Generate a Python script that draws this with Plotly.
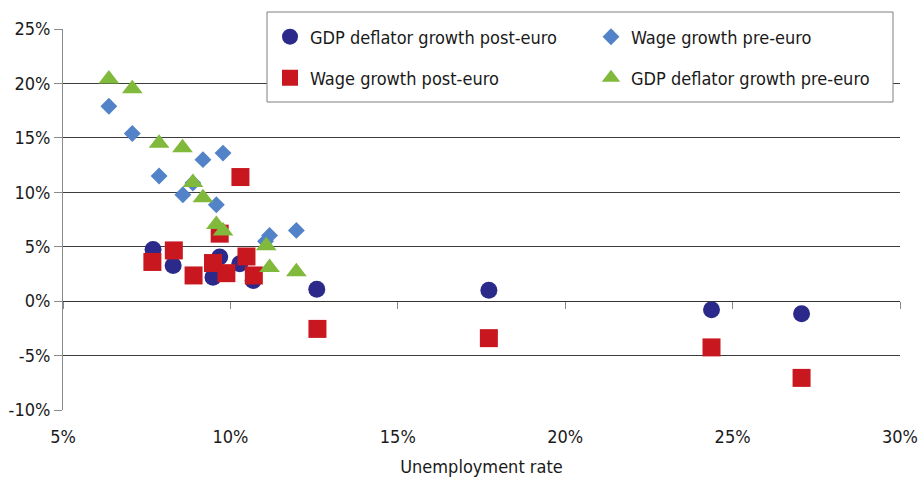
import plotly.graph_objects as go

# Unemployment rate (%) against growth rates (%), euro-area countries
post_unemp_gdp = [7.69, 8.29, 9.48, 9.68, 10.28, 10.68, 12.58, 17.72, 24.37, 27.06]
gdp_post = [4.75, 3.28, 2.2, 4.05, 3.44, 1.9, 1.1, 1.0, -0.8, -1.15]

post_unemp_wage = [7.67, 8.31, 8.90, 9.48, 9.68, 9.88, 10.30, 10.48, 10.70, 12.6, 17.72, 24.37, 27.06]
wage_post = [3.6, 4.66, 2.36, 3.5, 6.2, 2.57, 11.4, 4.1, 2.36, -2.55, -3.4, -4.25, -7.05]

pre_unemp_wage = [6.37, 7.07, 7.87, 8.58, 8.88, 9.18, 9.58, 9.78, 11.05, 11.17, 11.97]
wage_pre = [17.9, 15.4, 11.5, 9.78, 10.85, 13.0, 8.86, 13.6, 5.5, 6.04, 6.5]

pre_unemp_gdp = [6.37, 7.07, 7.87, 8.57, 8.88, 9.18, 9.58, 9.78, 11.07, 11.17, 11.97]
gdp_pre = [20.4, 19.5, 14.5, 14.1, 10.9, 9.5, 7.05, 6.45, 5.1, 3.1, 2.7]

x_ticks = [5, 10, 15, 20, 25, 30]
x_labels = ["5%", "10%", "15%", "20%", "25%", "30%"]
y_ticks = [-10, -5, 0, 5, 10, 15, 20, 25]
y_labels = ["-10%", "-5%", "0%", "5%", "10%", "15%", "20%", "25%"]

FONT = "DejaVu Sans Condensed, DejaVu Sans, sans-serif"
TXT = "#1a1a1a"
NAVY = "#2b2a8a"
RED = "#c8171f"
BLUE = "#5283c9"
GREEN = "#80b93b"

fig = go.Figure()

fig.add_trace(go.Scatter(
    x=post_unemp_gdp, y=gdp_post, mode="markers", name="GDP deflator growth post-euro",
    marker=dict(symbol="circle", size=17, color=NAVY), legend="legend"))
fig.add_trace(go.Scatter(
    x=post_unemp_wage, y=wage_post, mode="markers", name="Wage growth post-euro",
    marker=dict(symbol="square", size=18, color=RED), legend="legend2"))
fig.add_trace(go.Scatter(
    x=pre_unemp_wage, y=wage_pre, mode="markers", name="Wage growth pre-euro",
    marker=dict(symbol="diamond", size=13, color=BLUE), legend="legend"))
fig.add_trace(go.Scatter(
    x=pre_unemp_gdp, y=gdp_pre, mode="markers", name="GDP deflator growth pre-euro",
    marker=dict(symbol="triangle-up", size=18, color=GREEN), legend="legend2"))
# carrier for the axis line drawn through 0%
fig.add_trace(go.Scatter(x=[], y=[], xaxis="x2", showlegend=False, hoverinfo="skip"))

y_lo, y_hi = -10, 25

legend_common = dict(
    orientation="h", xanchor="left", yanchor="middle",
    bgcolor="rgba(0,0,0,0)", borderwidth=0, entrywidth=276,
    font=dict(family=FONT, size=18, color=TXT), traceorder="normal",
)

fig.update_layout(
    width=918, height=480,
    margin=dict(l=63, r=18, t=29, b=70, autoexpand=False),
    paper_bgcolor="white", plot_bgcolor="white",
    font=dict(family=FONT, size=18, color=TXT),
    xaxis=dict(
        range=[5, 30], tickvals=x_ticks, ticktext=x_labels,
        showgrid=False, zeroline=False, showline=False, ticks="",
        ticklabelstandoff=14, tickfont=dict(size=18),
        title=dict(text="Unemployment rate", font=dict(size=18), standoff=14),
    ),
    xaxis2=dict(
        range=[5, 30], overlaying="x", anchor="free",
        position=(0 - y_lo) / (y_hi - y_lo), side="bottom",
        tickvals=x_ticks, showticklabels=False, showgrid=False, zeroline=False,
        showline=True, linecolor="#333333", linewidth=1,
        ticks="outside", ticklen=7, tickcolor="#888888",
    ),
    yaxis=dict(
        range=[y_lo, y_hi], tickvals=y_ticks, ticktext=y_labels,
        showgrid=True, gridcolor="#3c3c3c", gridwidth=1, zeroline=False,
        showline=True, linecolor="#8a8a8a", linewidth=1,
        ticks="outside", ticklen=8, tickcolor="#8a8a8a",
        tickfont=dict(size=18),
    ),
    legend=dict(x=(270 - 63) / 837, y=(410 - 37) / 381, **legend_common),
    legend2=dict(x=(270 - 63) / 837, y=(410 - 78) / 381, **legend_common),
    shapes=[dict(
        type="rect", xref="paper", yref="paper",
        x0=(267 - 63) / 837, x1=(893 - 63) / 837,
        y0=(410 - 102) / 381, y1=(410 - 12) / 381,
        line=dict(color="#7f7f7f", width=1), fillcolor="white", layer="above",
    )],
    showlegend=True,
)

fig.write_html("out.html")
